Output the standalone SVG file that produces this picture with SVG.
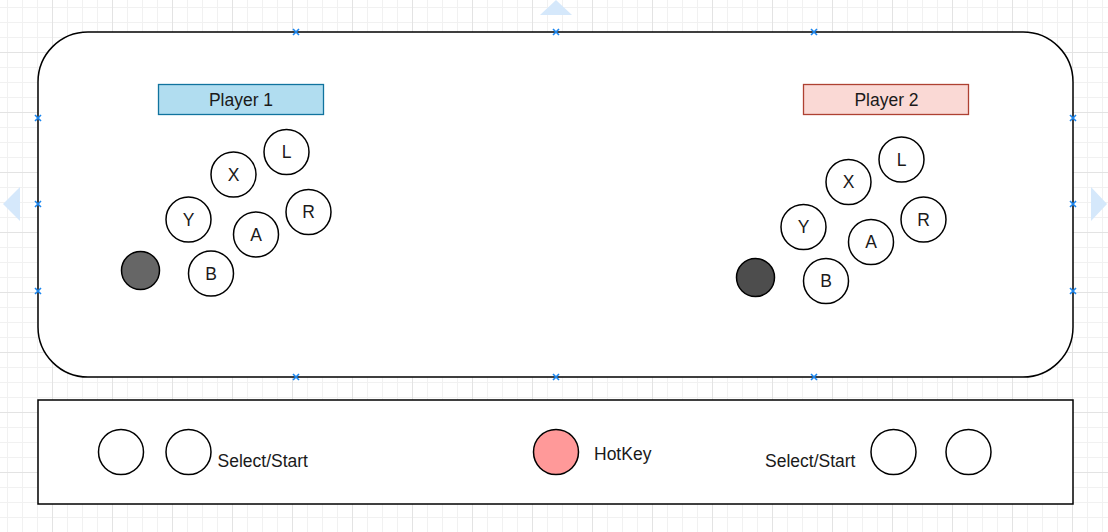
<svg xmlns="http://www.w3.org/2000/svg" width="1108" height="532" viewBox="0 0 1108 532">
<defs>
<pattern id="grid" patternUnits="userSpaceOnUse" x="52" y="52" width="60" height="60">
<path d="M15.5 0V60M30.5 0V60M45.5 0V60M0 15.5H60M0 30.5H60M0 45.5H60" stroke="#f1f1f1" stroke-width="1" fill="none"/>
<path d="M0.5 0V60M0 0.5H60" stroke="#e3e3e3" stroke-width="1" fill="none"/>
</pattern>
<path id="xm" d="M-3 -3L3 3M-3 3L3 -3" stroke="#1a86f0" stroke-width="1.6" fill="none"/>
</defs>
<style>
.shape{fill:#ffffff;stroke:#000000;stroke-width:1.5}
.btn{fill:#ffffff;stroke:#000000;stroke-width:1.5}
.t{font-family:"Liberation Sans",Arial,sans-serif;font-size:17.5px;fill:#1a1a1a}
.c{text-anchor:middle}
.hint{fill:#d5e8fb}
</style>
<rect x="0" y="0" width="1108" height="532" fill="#ffffff"/>
<rect x="0" y="0" width="1108" height="532" fill="url(#grid)"/>

<g id="hover-arrows">
<polygon class="hint" points="540,15 572,15 556,0"/>
<polygon class="hint" points="20,187 20,221 3,204"/>
<polygon class="hint" points="1091,187 1091,221 1107,204"/>
</g>

<g id="console">
<rect class="shape" x="38" y="32" width="1035" height="345" rx="50" ry="50"/>
</g>

<g id="player1-label">
<rect x="158.5" y="84.5" width="165" height="30" fill="#b1ddf0" stroke="#10739e" stroke-width="1.3"/>
<text class="t c" x="241" y="106">Player 1</text>
</g>
<g id="player2-label">
<rect x="803.5" y="84.5" width="165" height="30" fill="#fad9d5" stroke="#ae4132" stroke-width="1.3"/>
<text class="t c" x="886.5" y="106">Player 2</text>
</g>

<g id="p1-stick"><circle cx="140.5" cy="270.5" r="19" fill="#666666" stroke="#000000" stroke-width="1.5"/></g>
<g id="p1-L"><circle class="btn" cx="286.5" cy="152" r="22.5"/><text class="t c" x="286.5" y="158.3">L</text></g>
<g id="p1-X"><circle class="btn" cx="233.5" cy="174.5" r="22.5"/><text class="t c" x="233.5" y="180.8">X</text></g>
<g id="p1-Y"><circle class="btn" cx="188.5" cy="219.5" r="22.5"/><text class="t c" x="188.5" y="225.8">Y</text></g>
<g id="p1-A"><circle class="btn" cx="256" cy="234.5" r="22.5"/><text class="t c" x="256" y="240.8">A</text></g>
<g id="p1-R"><circle class="btn" cx="308.5" cy="212" r="22.5"/><text class="t c" x="308.5" y="218.3">R</text></g>
<g id="p1-B"><circle class="btn" cx="211" cy="273.5" r="22.5"/><text class="t c" x="211" y="279.8">B</text></g>

<g id="p2-stick"><circle cx="755.5" cy="277.5" r="19" fill="#4d4d4d" stroke="#000000" stroke-width="1.5"/></g>
<g id="p2-L"><circle class="btn" cx="901.5" cy="159.5" r="22.5"/><text class="t c" x="901.5" y="165.8">L</text></g>
<g id="p2-X"><circle class="btn" cx="848.5" cy="182" r="22.5"/><text class="t c" x="848.5" y="188.3">X</text></g>
<g id="p2-Y"><circle class="btn" cx="803.5" cy="227" r="22.5"/><text class="t c" x="803.5" y="233.3">Y</text></g>
<g id="p2-A"><circle class="btn" cx="871" cy="242" r="22.5"/><text class="t c" x="871" y="248.3">A</text></g>
<g id="p2-R"><circle class="btn" cx="923.5" cy="219.5" r="22.5"/><text class="t c" x="923.5" y="225.8">R</text></g>
<g id="p2-B"><circle class="btn" cx="826" cy="281" r="22.5"/><text class="t c" x="826" y="287.3">B</text></g>

<g id="connection-points">
<use href="#xm" x="296" y="32"/><use href="#xm" x="556" y="32"/><use href="#xm" x="814" y="32"/>
<use href="#xm" x="296" y="377"/><use href="#xm" x="556" y="377"/><use href="#xm" x="814" y="377"/>
<use href="#xm" x="38" y="118"/><use href="#xm" x="38" y="204"/><use href="#xm" x="38" y="291"/>
<use href="#xm" x="1073" y="118"/><use href="#xm" x="1073" y="204"/><use href="#xm" x="1073" y="291"/>
</g>

<g id="control-panel">
<rect class="shape" x="38" y="400" width="1035" height="104"/>
</g>
<g id="p1-select"><circle class="btn" cx="121" cy="452" r="22.5"/></g>
<g id="p1-start"><circle class="btn" cx="188.5" cy="452" r="22.5"/></g>
<g id="p1-select-start-label"><text class="t" x="217.5" y="466.5">Select/Start</text></g>
<g id="hotkey"><circle cx="556" cy="452" r="22.5" fill="#ff9999" stroke="#000000" stroke-width="1.5"/></g>
<g id="hotkey-label"><text class="t" x="594" y="460">HotKey</text></g>
<g id="p2-select-start-label"><text class="t" x="765" y="466.5">Select/Start</text></g>
<g id="p2-select"><circle class="btn" cx="893.5" cy="452" r="22.5"/></g>
<g id="p2-start"><circle class="btn" cx="968.5" cy="452" r="22.5"/></g>
</svg>
